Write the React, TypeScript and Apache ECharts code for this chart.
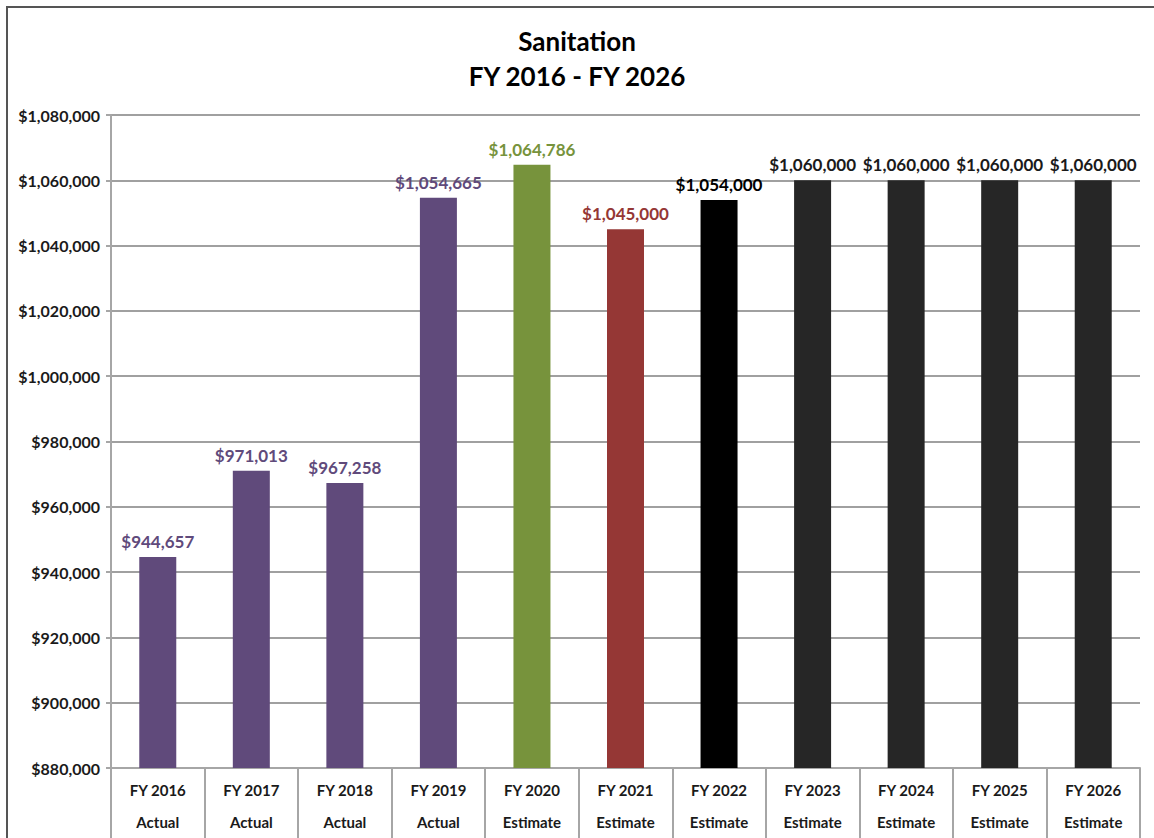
import React, { useEffect, useRef } from "react";
import * as echarts from "echarts";

const years = ["FY 2016", "FY 2017", "FY 2018", "FY 2019", "FY 2020", "FY 2021", "FY 2022", "FY 2023", "FY 2024", "FY 2025", "FY 2026"];
const kinds = ["Actual", "Actual", "Actual", "Actual", "Estimate", "Estimate", "Estimate", "Estimate", "Estimate", "Estimate", "Estimate"];
const values = [944657, 971013, 967258, 1054665, 1064786, 1045000, 1054000, 1060000, 1060000, 1060000, 1060000];
const barColors = ["#604A7B", "#604A7B", "#604A7B", "#604A7B", "#77933C", "#953735", "#000000", "#262626", "#262626", "#262626", "#262626"];
const labelColors = ["#604A7B", "#604A7B", "#604A7B", "#604A7B", "#77933C", "#953735", "#000000", "#1a1a1a", "#1a1a1a", "#1a1a1a", "#1a1a1a"];
const yMin = 880000;
const yMax = 1080000;
const yStep = 20000;

const money = (v: number) => "$" + v.toLocaleString("en-US");
const FONT = "Lato";

export default function App() {
  const ref = useRef<HTMLDivElement>(null);
  useEffect(() => {
    if (!ref.current) return;
    const chart = echarts.init(ref.current, null, { renderer: "svg" });
    chart.setOption({
      animation: false,
      backgroundColor: "#ffffff",
      title: {
        text: "Sanitation\nFY 2016 - FY 2026",
        left: "center",
        top: 18,
        textStyle: { fontFamily: FONT, fontWeight: "bold", fontSize: 26, color: "#000", lineHeight: 35 },
      },
      graphic: [
        {
          type: "rect",
          shape: { x: 7, y: 7, width: 1160, height: 850 },
          style: { fill: "none", stroke: "#555555", lineWidth: 2 },
          silent: true,
        },
      ],
      grid: { left: 111, right: 14, top: 115, bottom: 53, containLabel: false },
      xAxis: {
        type: "category",
        data: years.map((y, i) => y + "\n" + kinds[i]),
        axisLine: { show: true, lineStyle: { color: "#a6a6a6", width: 2 } },
        axisTick: { show: true, length: 70, interval: 0, lineStyle: { color: "#a6a6a6", width: 2 } },
        axisLabel: {
          interval: 0,
          margin: 6,
          fontFamily: FONT,
          fontWeight: "bold",
          fontSize: 15,
          color: "#1a1a1a",
          lineHeight: 32,
        },
      },
      yAxis: {
        type: "value",
        min: yMin,
        max: yMax,
        interval: yStep,
        axisLine: { show: true, lineStyle: { color: "#a6a6a6", width: 2 } },
        axisTick: { show: true, length: 5, lineStyle: { color: "#a6a6a6", width: 2 } },
        splitLine: { show: true, lineStyle: { color: "#a0a0a0", width: 2 } },
        axisLabel: {
          formatter: (v: number) => money(v),
          fontFamily: FONT,
          fontWeight: "bold",
          fontSize: 16,
          color: "#1a1a1a",
          margin: 11,
        },
      },
      series: [
        {
          type: "bar",
          barWidth: 37,
          data: values.map((v, i) => ({
            value: v,
            itemStyle: { color: barColors[i] },
            label: { color: labelColors[i] },
          })),
          label: {
            show: true,
            position: "top",
            distance: 7,
            formatter: (p: any) => money(p.value),
            fontFamily: FONT,
            fontWeight: "bold",
            fontSize: 17,
          },
        },
      ],
    });
    return () => chart.dispose();
  }, []);
  return <div ref={ref} style={{ position: "fixed", left: 0, top: 0, width: 1154, height: 838 }} />;
}
